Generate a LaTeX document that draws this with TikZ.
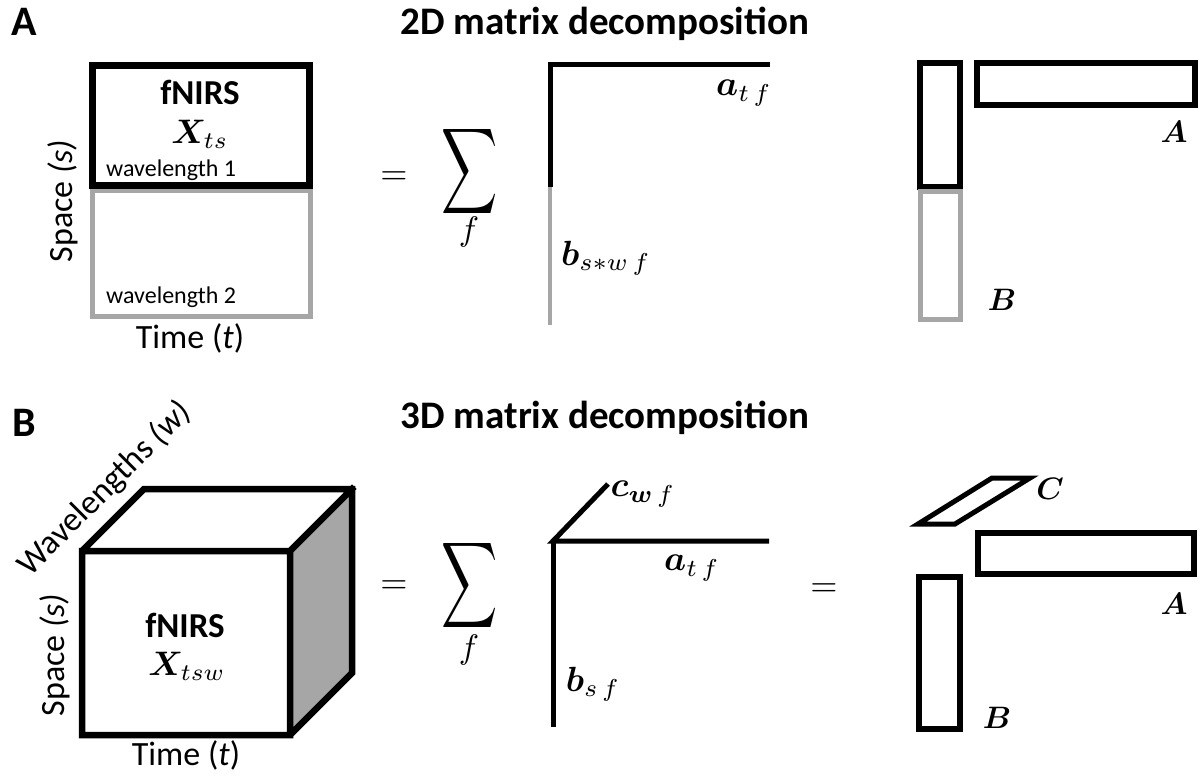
\documentclass[tikz,border=0pt]{standalone}
\usepackage{amsmath,bm,graphicx}
\usepackage{fontspec}
\setmainfont{Carlito}
\definecolor{lgray}{HTML}{A6A6A6}
\newcommand{\mlab}[2]{\scalebox{#1}{$#2$}}
\begin{document}
\begin{tikzpicture}[x=1pt,y=-1pt,
  inner sep=0pt,
  blk/.style={line width=6pt, line join=miter, line cap=rect},
  gry/.style={line width=5pt, draw=lgray, line join=miter},
  panel/.style={font=\fontsize{42}{46}\selectfont\bfseries},
  ttl/.style={font=\fontsize{39}{44}\selectfont\bfseries},
  axislbl/.style={font=\fontsize{34}{38}\selectfont},
  wl/.style={font=\fontsize{24}{28}\selectfont, anchor=west},
  fn/.style={font=\fontsize{35}{40}\selectfont\bfseries},
  mlbl/.style={font=\fontsize{10}{12}\selectfont}]
\useasboundingbox (0,0) rectangle (1200,778);

% ---------------- Panel A ----------------
\node[panel] (lblA) at (24,22) {A};
\node[ttl] (titleA) at (605,24) {2D matrix decomposition};

\draw[gry] (92,191) rectangle (310,316);
\draw[blk, line width=7pt] (92.5,65.5) rectangle (309.5,185.5);
\node[fn] (fnA) at (200,92) {fNIRS};
\node[mlbl] (XA) at (200,134) {\mlab{3.4}{\bm{X}_{ts}}};
\node[wl] (wl1) at (106,170) {wavelength 1};
\node[wl] (wl2) at (106,297) {wavelength 2};
\node[axislbl, rotate=90] (spaceA) at (63,201) {Space \textit{(s)}};
\node[axislbl] (timeA) at (190,338) {Time (\textit{t})};

\node[mlbl] (eqA) at (394,178) {\mlab{3.5}{=}};
\node[mlbl] (sumA) at (470,172) {\scalebox{3.9}[6.0]{$\displaystyle\sum$}};
\node[mlbl] (fA) at (469,232) {\mlab{3.4}{f}};

\coordinate (cA) at (550,65);
\coordinate (aEndA) at (770,65);
\coordinate (midA) at (550,187);
\coordinate (bEndA) at (550,325);
\draw[line width=5pt] (midA) -- (cA) -- (aEndA);
\draw[line width=4.5pt, lgray] (midA) -- (bEndA);
\node[mlbl] (atfA) at (744,93) {\mlab{3.5}{\bm{a}_{t\,f}}};
\node[mlbl] (bswA) at (606,258) {\mlab{3.5}{\bm{b}_{s*w\,f}}};

\draw[blk] (920,63) rectangle (960,187);
\draw[gry] (920,192) rectangle (960,319);
\draw[blk] (977,63) rectangle (1195,105);
\node[mlbl] (labAA) at (1174,132) {\mlab{3.1}{\bm{A}}};
\node[mlbl] (labBA) at (1002,300) {\mlab{3.1}{\bm{B}}};

% ---------------- Panel B ----------------
\node[panel] (lblB) at (24,423) {B};
\node[ttl] (titleB) at (605,418) {3D matrix decomposition};

\fill[lgray] (290,551) -- (352,489) -- (352,673) -- (290,735) -- cycle;
\draw[blk, line width=6.5pt]
  (82,551) -- (144,489) -- (352,489) -- (352,673) -- (290,735) -- (82,735) -- cycle
  (82,551) -- (290,551) -- (290,735)
  (290,551) -- (352,489);
\node[fn] (fnB) at (185,625) {fNIRS};
\node[mlbl] (XB) at (187,666) {\mlab{3.4}{\bm{X}_{tsw}}};
\node[axislbl, rotate=90] (spaceB) at (55,655) {Space \textit{(s)}};
\node[axislbl] (timeB) at (186,755) {Time (\textit{t})};
\node[axislbl, rotate=45] (wlB) at (105,489) {Wavelengths \textit{(w)}};

\node[mlbl] (eqB1) at (394,587) {\mlab{3.5}{=}};
\node[mlbl] (sumB) at (470,586) {\scalebox{3.9}[6.0]{$\displaystyle\sum$}};
\node[mlbl] (fB) at (469,650) {\mlab{3.4}{f}};

\coordinate (cB) at (553,541);
\coordinate (cEnd) at (608,484);
\coordinate (aEndB) at (769,541);
\coordinate (bEndB) at (553,727);
\draw[line width=5pt] (cEnd) -- (cB) -- (aEndB);
\draw[line width=5pt] (cB) -- (bEndB);
\node[mlbl] (cwf) at (643,494) {\mlab{3.5}{\bm{c}_{\bm{w}\,f}}};
\node[mlbl] (atfB) at (692,568) {\mlab{3.5}{\bm{a}_{t\,f}}};
\node[mlbl] (bsf) at (593,684) {\mlab{3.5}{\bm{b}_{s\,f}}};

\node[mlbl] (eqB2) at (824,590) {\mlab{3.5}{=}};

\draw[line width=5pt, line join=miter] (918,524) -- (992,478) -- (1030,478) -- (955,524) -- cycle;
\node[mlbl] (labC) at (1050,489) {\mlab{3.1}{\bm{C}}};
\draw[blk, line width=5.5pt] (978,533) rectangle (1194,574);
\node[mlbl] (labAB) at (1174,604) {\mlab{3.1}{\bm{A}}};
\draw[blk, line width=5.5pt] (919,577) rectangle (960,729);
\node[mlbl] (labBB) at (997,718) {\mlab{3.1}{\bm{B}}};
\end{tikzpicture}
\end{document}
